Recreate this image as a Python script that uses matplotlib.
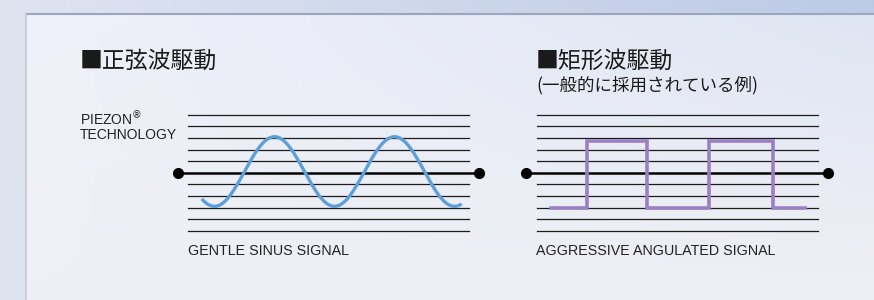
import numpy as np
import matplotlib
matplotlib.use("Agg")
import matplotlib.pyplot as plt

W, H = 874, 300

# staff levels (11 lines, centre line thicker)
levels = np.arange(-5, 6)

# sine signal (x in px-like units along the staff, y in staff levels)
staff_len = 281
sine_start, sine_end = 13.7, 273.7
sine_amp, sine_offset = 3.0, 0.1
sine_period, sine_trough = 120.0, 26.5

# square signal: edges along the staff and levels
sq_x = [14, 50, 50, 110.6, 110.6, 172.6, 172.6, 236, 236, 268.3]
sq_y = [-3, -3, 2.75, 2.75, -3, -3, 2.75, 2.75, -3, -3]

title_left = "■正弦波駆動"
title_right = "■矩形波駆動"
subtitle_right = "(一般的に採用されている例)"
label_left = "GENTLE SINUS SIGNAL"
label_right = "AGGRESSIVE ANGULATED SIGNAL"
brand = "PIEZON$^{®}$\nTECHNOLOGY"

cjk = ["Noto Sans CJK JP", "DejaVu Sans"]
latin = ["Liberation Sans", "DejaVu Sans"]

fig = plt.figure(figsize=(W / 100, H / 100), dpi=100)

# background + panel in pixel coords
bg = fig.add_axes([0, 0, 1, 1])
bg.set_xlim(0, W)
bg.set_ylim(H, 0)
bg.axis("off")

gx = np.linspace(0, 1, 200)
gy = np.linspace(0, 1, 60)
GX, GY = np.meshgrid(gx, gy)
c_left = np.array([0.875, 0.894, 0.945])
c_tr = np.array([0.737, 0.792, 0.902])
t = np.clip(GX * (1 - GY * 0.6), 0, 1)[..., None]
outer = c_left * (1 - t) + c_tr * t
bg.imshow(outer, extent=(0, W, H, 0), aspect="auto", zorder=0)

p_tl = np.array([0.937, 0.945, 0.980])
p_tr = np.array([0.875, 0.898, 0.953])
p_bot = np.array([0.937, 0.941, 0.961])
tx = GX[..., None]
ty = GY[..., None]
top = p_tl * (1 - tx) + p_tr * tx
panel = top * (1 - ty) + p_bot * ty
bg.imshow(panel, extent=(26, W, H, 13), aspect="auto", zorder=1)
bg.plot([26, W], [13.5, 13.5], color="#9ba5bd", lw=1.5, zorder=2)
bg.plot([26, 26], [13, H], color="#c6cad4", lw=1.2, zorder=2)
bg.set_xlim(0, W)
bg.set_ylim(H, 0)

bg.text(80, 61, title_left, fontsize=16.5, family=cjk, va="center", ha="left", color="#1a1a1a", zorder=3)
bg.text(536, 61, title_right, fontsize=16.5, family=cjk, va="center", ha="left", color="#1a1a1a", zorder=3)
bg.text(536, 85, subtitle_right, fontsize=12.6, family=cjk, va="center", ha="left", color="#1a1a1a", zorder=3)
bg.text(80, 125.5, brand, fontsize=10, family=latin, va="center", ha="left", color="#222222", linespacing=1.0, zorder=3)
bg.text(188, 251, label_left, fontsize=10.3, family=latin, va="center", ha="left", color="#222222", zorder=3)
bg.text(536, 251, label_right, fontsize=10.3, family=latin, va="center", ha="left", color="#222222", zorder=3)


def staff_axes(x0_px):
    # staff axes: x from -12 to staff_len+12, y levels -5.5..5.5, centre at 172.7 px
    sp = 11.6
    left = x0_px - 12
    width = staff_len + 24
    top_px = 172.7 - 5.5 * sp
    height = 11 * sp
    ax = fig.add_axes([left / W, 1 - (top_px + height) / H, width / W, height / H])
    ax.set_xlim(-12, staff_len + 12)
    ax.set_ylim(-5.5, 5.5)
    ax.axis("off")
    for lv in levels:
        if lv == 0:
            continue
        ax.plot([0, staff_len], [lv, lv], color="#1c1c1c", lw=0.9, zorder=1)
    ax.plot([-10.5, staff_len + 10.5], [0, 0], color="black", lw=1.8, zorder=1)
    ax.plot([-10.5, staff_len + 10.5], [0, 0], "o", color="black", ms=7, zorder=4, clip_on=False)
    return ax


ax1 = staff_axes(188)
xs = np.linspace(sine_start, sine_end, 400)
ys = sine_offset - sine_amp * np.cos(2 * np.pi * (xs - sine_trough) / sine_period)
ax1.plot(xs, ys, color="#5d9fd8", lw=2.4, solid_capstyle="butt", zorder=3)

ax2 = staff_axes(536.7)
ax2.plot(sq_x, sq_y, color="#9a80c2", lw=2.6, solid_joinstyle="miter", zorder=3)

fig.savefig("out.png", dpi=100)
